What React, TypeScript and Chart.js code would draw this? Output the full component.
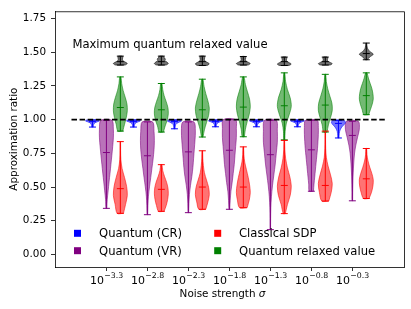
import React, { useEffect, useRef } from 'react';
import { Chart, registerables } from 'chart.js';

Chart.register(...registerables);

// ---- categories / ticks ----
const GROUP_POS = [-3.3, -2.8, -2.3, -1.8, -1.3, -0.8, -0.3];
const TICK_BASE = '10';
const TICK_EXPONENTS = ['\u22123.3', '\u22122.8', '\u22122.3', '\u22121.8', '\u22121.3', '\u22120.8', '\u22120.3'];
const Y_TICKS = [0, 0.25, 0.5, 0.75, 1.0, 1.25, 1.5, 1.75];

// ---- Quantum (CR) ----
const CR_MIN = [0.945, 0.945, 0.932, 0.947, 0.947, 0.947, 0.864];
const CR_MAX = [0.997, 0.997, 0.997, 0.997, 0.997, 0.997, 0.995];
const CR_MEDIAN = [0.985, 0.985, 0.985, 0.985, 0.985, 0.985, 0.972];
const CR_PROFILE = [
  [0.12, 0.12, 0.14, 0.18, 0.25, 0.4, 0.7, 1.0, 0.85],
  [0.12, 0.12, 0.14, 0.18, 0.25, 0.4, 0.7, 1.0, 0.85],
  [0.1, 0.1, 0.12, 0.15, 0.2, 0.35, 0.65, 1.0, 0.85],
  [0.12, 0.12, 0.14, 0.18, 0.25, 0.4, 0.7, 1.0, 0.85],
  [0.12, 0.12, 0.14, 0.18, 0.25, 0.4, 0.7, 1.0, 0.85],
  [0.12, 0.12, 0.14, 0.18, 0.25, 0.4, 0.7, 1.0, 0.85],
  [0.08, 0.1, 0.12, 0.18, 0.3, 0.5, 0.8, 1.0, 0.8],
];

// ---- Quantum (VR) ----
const VR_MIN = [0.342, 0.295, 0.31, 0.335, 0.184, 0.469, 0.398];
const VR_MAX = [0.995, 0.983, 0.983, 1.0, 0.995, 0.995, 0.988];
const VR_MEDIAN = [0.756, 0.732, 0.761, 0.773, 0.74, 0.776, 0.883];
const VR_PROFILE = [
  [0.06, 0.12, 0.25, 0.38, 0.52, 0.65, 0.78, 0.9, 1.0, 1.0, 0.8],
  [0.04, 0.08, 0.15, 0.3, 0.48, 0.65, 0.82, 0.95, 1.0, 0.95, 0.75],
  [0.04, 0.08, 0.15, 0.3, 0.5, 0.65, 0.75, 0.85, 0.95, 1.0, 0.8],
  [0.05, 0.12, 0.22, 0.4, 0.55, 0.7, 0.8, 0.9, 1.0, 1.0, 0.9],
  [0.03, 0.04, 0.07, 0.15, 0.3, 0.5, 0.7, 0.85, 1.0, 1.0, 0.85],
  [0.3, 0.38, 0.48, 0.58, 0.68, 0.78, 0.88, 0.95, 1.0, 1.0, 0.85],
  [0.04, 0.05, 0.07, 0.1, 0.15, 0.22, 0.32, 0.5, 0.75, 1.0, 0.85],
];

// ---- Classical SDP ----
const SDP_MIN = [0.305, 0.32, 0.335, 0.347, 0.303, 0.396, 0.415];
const SDP_MAX = [0.837, 0.666, 0.769, 0.798, 0.846, 0.915, 0.786];
const SDP_MEDIAN = [0.488, 0.483, 0.5, 0.5, 0.512, 0.512, 0.561];
const SDP_PROFILE = [
  [0.45, 0.75, 1.0, 0.9, 0.6, 0.25, 0.08, 0.04, 0.03],
  [0.4, 0.7, 0.9, 1.0, 0.95, 0.75, 0.45, 0.2, 0.08],
  [0.5, 0.8, 1.0, 0.9, 0.6, 0.3, 0.15, 0.07, 0.04],
  [0.55, 0.85, 1.0, 0.9, 0.7, 0.45, 0.2, 0.08, 0.04],
  [0.15, 0.45, 0.85, 1.0, 0.8, 0.45, 0.2, 0.08, 0.04],
  [0.5, 0.85, 1.0, 0.75, 0.4, 0.15, 0.06, 0.04, 0.03],
  [0.4, 0.75, 0.95, 1.0, 0.8, 0.5, 0.25, 0.1, 0.05],
];

// ---- Quantum relaxed value ----
const REL_MIN = [0.915, 0.908, 0.871, 0.873, 0.85, 0.908, 1.037];
const REL_MAX = [1.317, 1.268, 1.3, 1.317, 1.347, 1.336, 1.347];
const REL_MEDIAN = [1.09, 1.073, 1.073, 1.093, 1.103, 1.108, 1.178];
const REL_PROFILE = [
  [0.35, 0.6, 0.85, 1.0, 0.95, 0.7, 0.4, 0.2, 0.08],
  [0.3, 0.55, 0.85, 1.0, 0.95, 0.7, 0.4, 0.2, 0.08],
  [0.1, 0.3, 0.6, 0.9, 1.0, 0.8, 0.5, 0.25, 0.08],
  [0.15, 0.3, 0.55, 0.85, 1.0, 0.9, 0.6, 0.3, 0.1],
  [0.08, 0.12, 0.3, 0.7, 1.0, 0.85, 0.45, 0.18, 0.06],
  [0.25, 0.45, 0.75, 1.0, 0.95, 0.65, 0.35, 0.15, 0.06],
  [0.35, 0.6, 0.85, 1.0, 0.95, 0.8, 0.55, 0.3, 0.1],
];

// ---- Maximum quantum relaxed value ----
const MAX_MIN = [1.405, 1.405, 1.402, 1.405, 1.402, 1.405, 1.444];
const MAX_MAX = [1.471, 1.471, 1.471, 1.468, 1.464, 1.464, 1.568];
const MAX_MEDIAN = [1.43, 1.43, 1.43, 1.43, 1.43, 1.43, 1.49];
const MAX_PROFILE = [
  [0.7, 1.0, 0.7, 0.35, 0.3, 0.35, 0.3],
  [0.7, 1.0, 0.8, 0.5, 0.6, 0.4, 0.3],
  [0.7, 1.0, 0.7, 0.35, 0.3, 0.35, 0.3],
  [0.7, 1.0, 0.7, 0.35, 0.3, 0.35, 0.3],
  [0.7, 1.0, 0.7, 0.35, 0.3, 0.35, 0.3],
  [0.7, 1.0, 0.7, 0.35, 0.3, 0.35, 0.3],
  [0.15, 0.5, 1.0, 0.5, 0.2, 0.1, 0.05],
];

const LEGEND_LABELS = ['Quantum (CR)', 'Quantum (VR)', 'Classical SDP', 'Quantum relaxed value'];
const ANNOTATION_TEXT = 'Maximum quantum relaxed value';
const ANNOTATION_POS = { x: -3.715, y: 1.528 };
const REFERENCE_LINE = { y: 1.0, from: -3.726, to: 0.119 };

const X_RANGE = [-3.927, 0.33];
const Y_RANGE = [-0.093, 1.804];
const VIOLIN_WIDTH = 0.17;
const FONT = 'DejaVu Sans';

const SERIES = [
  { rgb: '0,0,255', fillA: 0.55, offset: -0.17, mins: CR_MIN, maxs: CR_MAX, meds: CR_MEDIAN, profs: CR_PROFILE },
  { rgb: '128,0,128', fillA: 0.55, offset: 0, mins: VR_MIN, maxs: VR_MAX, meds: VR_MEDIAN, profs: VR_PROFILE },
  { rgb: '255,0,0', fillA: 0.55, offset: 0.17, mins: SDP_MIN, maxs: SDP_MAX, meds: SDP_MEDIAN, profs: SDP_PROFILE },
  { rgb: '0,128,0', fillA: 0.55, offset: 0.17, mins: REL_MIN, maxs: REL_MAX, meds: REL_MEDIAN, profs: REL_PROFILE },
  { rgb: '0,0,0', fillA: 0.55, offset: 0.17, mins: MAX_MIN, maxs: MAX_MAX, meds: MAX_MEDIAN, profs: MAX_PROFILE },
];
const LEGEND_COLORS = ['rgb(0,0,255)', 'rgb(128,0,128)', 'rgb(255,0,0)', 'rgb(0,128,0)'];

function bodyPoints(pos: number, min: number, max: number, profile: number[]) {
  const hw = VIOLIN_WIDTH / 2;
  const n = profile.length;
  const right = profile.map((w, i) => ({ x: pos + w * hw, y: min + ((max - min) * i) / (n - 1) }));
  const left = profile.map((w, i) => ({ x: pos - w * hw, y: min + ((max - min) * i) / (n - 1) })).reverse();
  return [...right, ...left, right[0]];
}

function linePoints(pos: number, min: number, max: number, med: number) {
  const c = VIOLIN_WIDTH / 4;
  return [
    { x: pos - c, y: min }, { x: pos + c, y: min }, { x: pos, y: null },
    { x: pos, y: min }, { x: pos, y: max }, { x: pos, y: null },
    { x: pos - c, y: max }, { x: pos + c, y: max }, { x: pos, y: null },
    { x: pos - c, y: med }, { x: pos + c, y: med },
  ];
}

const decorPlugin = {
  id: 'decor',
  afterDraw(chart: any) {
    const ctx = chart.ctx as CanvasRenderingContext2D;
    const { left, right, top, bottom } = chart.chartArea;
    const xs = chart.scales.x;
    const ys = chart.scales.y;
    ctx.save();
    // top/right spines
    ctx.strokeStyle = 'rgba(0,0,0,0.8)';
    ctx.lineWidth = 1;
    ctx.beginPath();
    ctx.moveTo(left, top + 0.5);
    ctx.lineTo(right + 0.5, top + 0.5);
    ctx.lineTo(right + 0.5, bottom);
    ctx.stroke();

    ctx.fillStyle = '#000';
    ctx.textBaseline = 'alphabetic';
    // x tick labels 10^{e}
    GROUP_POS.forEach((v, i) => {
      const px = xs.getPixelForValue(v);
      ctx.font = `11px "${FONT}"`;
      const wb = ctx.measureText(TICK_BASE).width;
      ctx.font = `7.8px "${FONT}"`;
      const we = ctx.measureText(TICK_EXPONENTS[i]).width;
      const x0 = px - (wb + we) / 2;
      ctx.textAlign = 'left';
      ctx.font = `11px "${FONT}"`;
      ctx.fillText(TICK_BASE, x0, 283.5);
      ctx.font = `7.8px "${FONT}"`;
      ctx.fillText(TICK_EXPONENTS[i], x0 + wb + 0.3, 278.3);
    });

    // x title
    ctx.font = `10.4px "${FONT}"`;
    const t1 = 'Noise strength ';
    const w1 = ctx.measureText(t1).width;
    ctx.font = `italic 10.4px "${FONT}"`;
    const w2 = ctx.measureText('\u03c3').width;
    const xStart = 222.5 - (w1 + w2) / 2;
    ctx.textAlign = 'left';
    ctx.font = `10.4px "${FONT}"`;
    ctx.fillText(t1, xStart, 296.5);
    ctx.font = `italic 10.4px "${FONT}"`;
    ctx.fillText('\u03c3', xStart + w1, 296.5);

    // y title
    ctx.save();
    ctx.translate(17.2, (top + bottom) / 2);
    ctx.rotate(-Math.PI / 2);
    ctx.textAlign = 'center';
    ctx.font = `10.4px "${FONT}"`;
    ctx.fillText('Approximation ratio', 0, 0);
    ctx.restore();

    // annotation
    ctx.font = `11.6px "${FONT}"`;
    ctx.textAlign = 'left';
    ctx.fillText(ANNOTATION_TEXT, xs.getPixelForValue(ANNOTATION_POS.x), ys.getPixelForValue(ANNOTATION_POS.y));

    // legend (2 columns)
    const colX = [77.5, 217.7];
    const textX = [99, 239];
    const rowY = [233.3, 250.7];
    LEGEND_LABELS.forEach((lab, i) => {
      const col = Math.floor(i / 2);
      const row = i % 2;
      ctx.fillStyle = LEGEND_COLORS[i];
      ctx.fillRect(colX[col] - 3.5, rowY[row] - 3.5, 7, 7);
      ctx.fillStyle = '#000';
      ctx.font = `11.6px "${FONT}"`;
      ctx.fillText(lab, textX[col], rowY[row] + 3.8);
    });
    ctx.restore();
  },
};

export default function App() {
  const ref = useRef<HTMLCanvasElement | null>(null);
  useEffect(() => {
    if (!ref.current) return;
    const datasets: any[] = [];
    datasets.push({
      data: [{ x: REFERENCE_LINE.from, y: REFERENCE_LINE.y }, { x: REFERENCE_LINE.to, y: REFERENCE_LINE.y }],
      borderColor: '#000',
      borderWidth: 1.6,
      borderDash: [5.5, 2.6],
      pointRadius: 0,
      fill: false,
      order: 0,
    });
    SERIES.forEach((s) => {
      GROUP_POS.forEach((g, i) => {
        const pos = g + s.offset;
        datasets.push({
          data: linePoints(pos, s.mins[i], s.maxs[i], s.meds[i]),
          borderColor: `rgb(${s.rgb})`,
          borderWidth: 1,
          pointRadius: 0,
          fill: false,
          tension: 0,
          order: 1,
        });
        datasets.push({
          data: bodyPoints(pos, s.mins[i], s.maxs[i], s.profs[i]),
          borderColor: `rgba(${s.rgb},0.55)`,
          backgroundColor: `rgba(${s.rgb},${s.fillA})`,
          borderWidth: 1,
          pointRadius: 0,
          fill: 'shape',
          tension: 0.3,
          order: 2,
        });
      });
    });

    const chart = new Chart(ref.current, {
      type: 'line',
      data: { datasets },
      options: {
        animation: false,
        responsive: false,
        devicePixelRatio: 1,
        events: [],
        layout: { padding: { top: 7, right: 7, left: 0, bottom: 0 } },
        plugins: { legend: { display: false }, tooltip: { enabled: false } },
        scales: {
          x: {
            type: 'linear',
            min: X_RANGE[0],
            max: X_RANGE[1],
            afterBuildTicks: (scale: any) => {
              scale.ticks = GROUP_POS.map((v) => ({ value: v }));
            },
            afterFit: (scale: any) => {
              scale.height = 42;
            },
            ticks: { autoSkip: false, callback: () => '', maxRotation: 0 },
            grid: { display: true, drawOnChartArea: false, drawTicks: true, tickLength: 4, color: 'rgba(0,0,0,0.8)', lineWidth: 1 },
            border: { display: true, color: 'rgba(0,0,0,0.8)', width: 1 },
          },
          y: {
            type: 'linear',
            min: Y_RANGE[0],
            max: Y_RANGE[1],
            afterBuildTicks: (scale: any) => {
              scale.ticks = Y_TICKS.map((v) => ({ value: v }));
            },
            afterFit: (scale: any) => {
              scale.width = 55;
            },
            ticks: {
              autoSkip: false,
              padding: 5,
              color: '#000',
              font: { family: FONT, size: 10.4 },
              callback: (v: any) => Number(v).toFixed(2),
            },
            grid: { display: true, drawOnChartArea: false, drawTicks: true, tickLength: 4, color: 'rgba(0,0,0,0.8)', lineWidth: 1 },
            border: { display: true, color: 'rgba(0,0,0,0.8)', width: 1 },
          },
        },
      },
      plugins: [decorPlugin],
    });
    return () => chart.destroy();
  }, []);

  return (
    <div style={{ position: 'fixed', left: 0, top: 0, width: 411, height: 309, background: '#fff' }}>
      <canvas ref={ref} width={411} height={309} style={{ width: 411, height: 309 }} />
    </div>
  );
}
